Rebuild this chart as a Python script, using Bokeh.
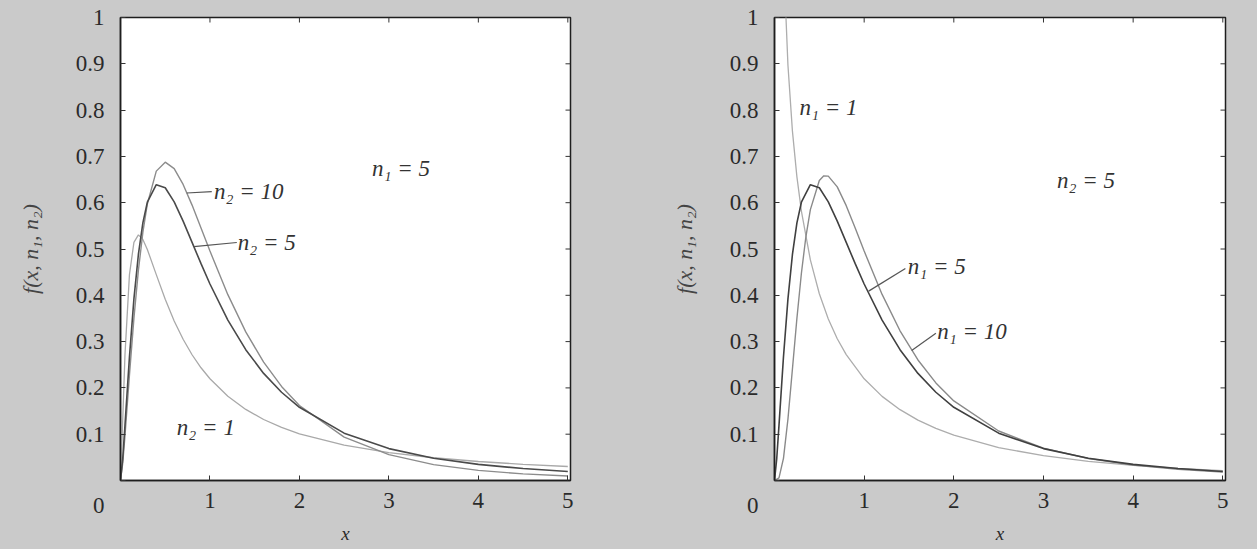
import math
from bokeh.plotting import figure
from bokeh.layouts import row
from bokeh.models import Range1d, FixedTicker, Label, GlobalInlineStyleSheet
from bokeh.embed import file_html
from bokeh.resources import INLINE

# ---------------- data ----------------
x_tick_values = [1, 2, 3, 4, 5]
x_tick_labels = ["1", "2", "3", "4", "5"]
y_tick_values = [0, 0.1, 0.2, 0.3, 0.4, 0.5, 0.6, 0.7, 0.8, 0.9, 1.0]
# the "0" sits at the lower-left corner, below the y=0 level
y_tick_labels = ["\n\n0", "0.1", "0.2", "0.3", "0.4", "0.5", "0.6", "0.7", "0.8", "0.9", "1"]

# n1 = 5 family (left panel) and the n1 = 5 / n2 = 5 curve (both panels)
x_n1_5 = [0, 0.025, 0.05, 0.1, 0.15, 0.2, 0.25, 0.3, 0.4, 0.5, 0.6, 0.7, 0.8, 0.9,
          1.0, 1.2, 1.4, 1.6, 1.8, 2.0, 2.5, 3.0, 3.5, 4.0, 4.5, 5.0]
f_5_1 = [0, 0.1317, 0.2716, 0.4446, 0.5144, 0.5305, 0.5207, 0.4990, 0.4446, 0.3913,
         0.3446, 0.3050, 0.2716, 0.2435, 0.2197, 0.1819, 0.1535, 0.1317, 0.1146,
         0.1008, 0.0762, 0.0602, 0.0491, 0.0410, 0.0349, 0.0302]
f_5_5 = [0, 0.0474, 0.1190, 0.2667, 0.3923, 0.4882, 0.5563, 0.6010, 0.6388, 0.6323,
         0.6019, 0.5602, 0.5143, 0.4683, 0.4244, 0.3464, 0.2825, 0.2313, 0.1906,
         0.1581, 0.1022, 0.0689, 0.0482, 0.0348, 0.0258, 0.0195]
f_5_10 = [0, 0.0373, 0.0963, 0.2274, 0.3502, 0.4537, 0.5357, 0.5972, 0.6682, 0.6876,
          0.6735, 0.6395, 0.5948, 0.5455, 0.4955, 0.4014, 0.3210, 0.2555, 0.2032,
          0.1620, 0.0936, 0.0558, 0.0344, 0.0219, 0.0143, 0.0096]

# right panel: n2 = 5 with n1 = 1 and n1 = 10
x_n1_1 = [0.05, 0.1, 0.15, 0.2, 0.25, 0.3, 0.4, 0.5, 0.6, 0.7, 0.8, 1.0, 1.2, 1.4,
          1.6, 1.8, 2.0, 2.5, 3.0, 3.5, 4.0, 4.5, 5.0]
f_1_5 = [1.6477, 1.1312, 0.8970, 0.7546, 0.6558, 0.5819, 0.4765, 0.4033, 0.3488,
         0.3062, 0.2719, 0.2197, 0.1817, 0.1530, 0.1305, 0.1125, 0.0978, 0.0711,
         0.0535, 0.0413, 0.0325, 0.0261, 0.0212]
x_n1_10 = [0, 0.05, 0.1, 0.15, 0.2, 0.25, 0.3, 0.35, 0.4, 0.5, 0.55, 0.6, 0.7, 0.8,
           0.9, 1.0, 1.2, 1.4, 1.6, 1.8, 2.0, 2.5, 3.0, 3.5, 4.0, 4.5, 5.0]
f_10_5 = [0, 0.0057, 0.0478, 0.1328, 0.2408, 0.3504, 0.4477, 0.5264, 0.5850, 0.6480,
          0.6580, 0.6575, 0.6342, 0.5936, 0.5454, 0.4955, 0.4019, 0.3233, 0.2603,
          0.2108, 0.1719, 0.1069, 0.0698, 0.0475, 0.0335, 0.0243, 0.0182]

# ---------------- styling ----------------
FONT = "Liberation Serif"
PAPER = "#cacaca"
INK = "#2a2a2a"
TICK_FS = "23px"
ANN_FS = "23px"
H = 549
X_END = 5.03


def make_panel(width, left, right, ylabel):
    p = figure(width=width, height=H, x_range=Range1d(0, X_END), y_range=Range1d(0, 1),
               output_backend="svg", toolbar_location=None,
               min_border_left=left, min_border_right=right,
               min_border_top=17, min_border_bottom=69)
    p.border_fill_color = PAPER
    p.background_fill_color = "white"
    p.outline_line_color = "#1e1e1e"
    p.outline_line_width = 1.5
    p.grid.visible = False

    xa = p.xaxis[0]
    xa.ticker = FixedTicker(ticks=x_tick_values)
    xa.major_label_overrides = dict(zip(x_tick_values, x_tick_labels))
    ya = p.yaxis[0]
    ya.ticker = FixedTicker(ticks=y_tick_values)
    ya.major_label_overrides = dict(zip(y_tick_values, y_tick_labels))
    for ax in (xa, ya):
        ax.axis_line_color = "#1e1e1e"
        ax.axis_line_width = 1.5
        ax.major_tick_in = 5
        ax.major_tick_out = 0
        ax.major_tick_line_color = "#333333"
        ax.minor_tick_line_color = None
        ax.major_label_text_font = FONT
        ax.major_label_text_font_size = TICK_FS
        ax.major_label_text_color = INK
    ya.major_label_text_line_height = 1.0
    xa.major_label_standoff = 12
    ya.major_label_standoff = 16
    xa.axis_label = "x"
    xa.axis_label_text_font = FONT
    xa.axis_label_text_font_style = "italic"
    xa.axis_label_text_font_size = "19px"
    xa.axis_label_text_color = INK
    xa.axis_label_standoff = 12
    ya.axis_label = ylabel
    ya.axis_label_text_font = FONT
    ya.axis_label_text_font_style = "italic"
    ya.axis_label_text_font_size = "22px"
    ya.axis_label_text_color = "#444444"
    ya.axis_label_standoff = 30

    # inward ticks on the top and right edges of the box
    p.ray(x=x_tick_values, y=[1.0] * len(x_tick_values), length=5, length_units="screen",
          angle=-math.pi / 2, line_color="#333333", line_width=1)
    p.ray(x=[X_END] * (len(y_tick_values) - 1), y=y_tick_values[1:], length=5,
          length_units="screen", angle=math.pi, line_color="#333333", line_width=1)
    return p


def annotate(p, x, y, text):
    p.add_layout(Label(x=x, y=y, text=text, text_font=FONT, text_font_style="italic",
                       text_font_size=ANN_FS, text_color="#333333",
                       text_align="left", text_baseline="middle"))


# ---------------- left panel ----------------
p1 = make_panel(608, 120, 38, "f(x, n₁, n₂)")
p1.line(x_n1_5, f_5_1, line_color="#a9a9a9", line_width=1.3)
p1.line(x_n1_5, f_5_10, line_color="#8c8c8c", line_width=1.4)
p1.line(x_n1_5, f_5_5, line_color="#4a4a4a", line_width=1.6)
p1.segment(x0=[0.74, 0.82], y0=[0.621, 0.505], x1=[1.02, 1.30], y1=[0.624, 0.514],
           line_color="#555555", line_width=1.2)
annotate(p1, 1.045, 0.624, "n₂ = 10")
annotate(p1, 1.31, 0.514, "n₂ = 5")
annotate(p1, 0.63, 0.114, "n₂ = 1")
annotate(p1, 2.81, 0.674, "n₁ = 5")

# ---------------- right panel ----------------
p2 = make_panel(649, 166, 32, "f(x, n₁, n₂)")
p2.line(x_n1_1, f_1_5, line_color="#adadad", line_width=1.3)
p2.line(x_n1_10, f_10_5, line_color="#8a8a8a", line_width=1.4)
p2.line(x_n1_5, f_5_5, line_color="#404040", line_width=1.6)
p2.segment(x0=[1.05, 1.53], y0=[0.409, 0.281], x1=[1.46, 1.80], y1=[0.458, 0.318],
           line_color="#555555", line_width=1.2)
annotate(p2, 0.28, 0.806, "n₁ = 1")
annotate(p2, 3.15, 0.648, "n₂ = 5")
annotate(p2, 1.485, 0.462, "n₁ = 5")
annotate(p2, 1.815, 0.322, "n₁ = 10")

layout = row(p1, p2, stylesheets=[GlobalInlineStyleSheet(css="body { background: #cacaca; }")])

open("out.html", "w").write(file_html(layout, INLINE))
